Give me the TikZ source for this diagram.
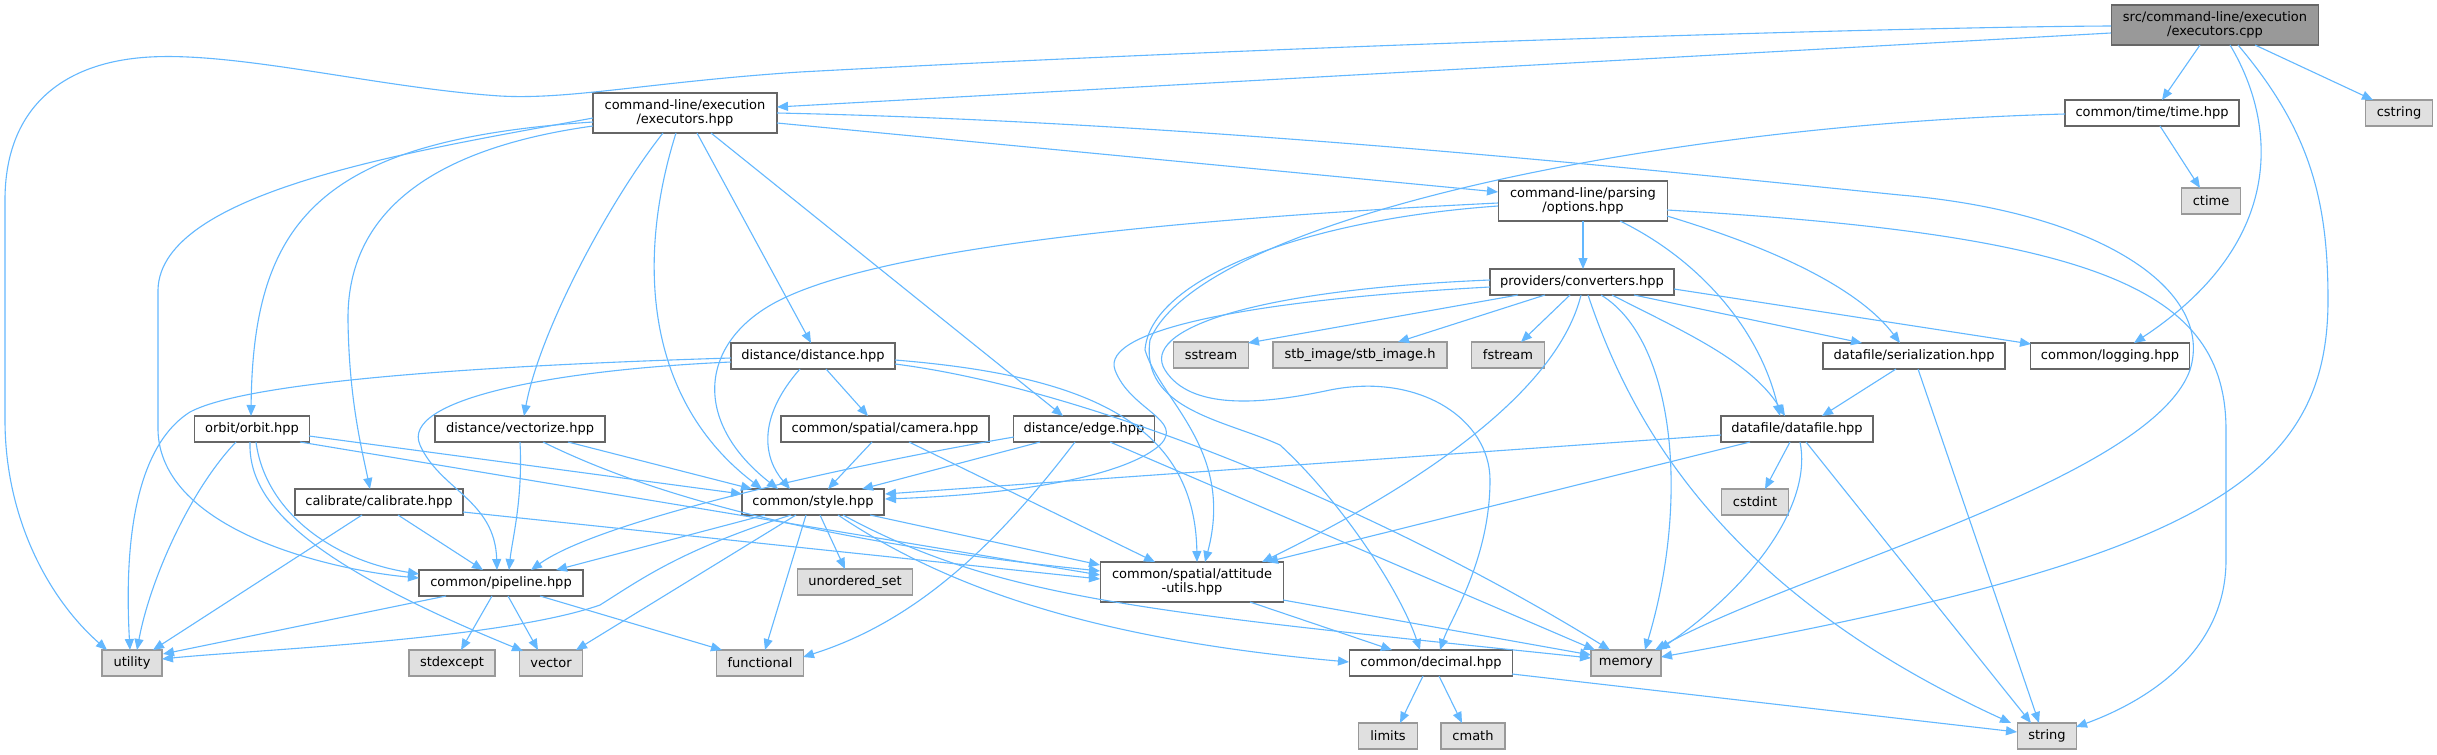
\documentclass[tikz,border=0pt]{standalone}
\usepackage{fontspec}
\setmainfont{DejaVu Sans}
\usetikzlibrary{arrows.meta,calc}
\definecolor{edgec}{HTML}{63B8FF}
\definecolor{bord}{HTML}{666666}
\definecolor{extfill}{HTML}{E0E0E0}
\definecolor{extbord}{HTML}{999999}
\definecolor{rootfill}{HTML}{999999}
\begin{document}
\begin{tikzpicture}[x=1pt,y=-1pt,
  base/.style={rectangle, inner sep=0pt, font=\fontsize{13}{14.5}\selectfont, align=center, line width=1.5pt, minimum height=26pt},
  hdr/.style={base, draw=bord, fill=white},
  ext/.style={base, draw=extbord, fill=extfill},
  root/.style={base, draw=bord, fill=rootfill},
  e/.style={draw=edgec, line width=1.1pt, -{Triangle[length=11pt,width=9pt]}},
]
\useasboundingbox[fill=white] (0,0) rectangle (2437,755);
% nodes
\node[root, minimum width=207pt, minimum height=40pt] (src) at (2215,25) {src/command-line/execution\\/executors.cpp};
\node[hdr, minimum width=184pt, minimum height=40pt] (cle) at (685,113) {command-line/execution\\/executors.hpp};
\node[hdr, minimum width=174pt] (time) at (2152,113) {common/time/time.hpp};
\node[ext, minimum width=67pt] (cstring) at (2399,113) {cstring};
\node[ext, minimum width=59pt] (ctime) at (2211,201) {ctime};
\node[hdr, minimum width=169pt, minimum height=40pt] (options) at (1583,201) {command-line/parsing\\/options.hpp};
\node[hdr, minimum width=184pt] (conv) at (1582,282) {providers/converters.hpp};
\node[ext, minimum width=75pt] (sstream) at (1211,355) {sstream};
\node[ext, minimum width=174pt] (stb) at (1360,355) {stb\_image/stb\_image.h};
\node[ext, minimum width=73pt] (fstream) at (1508,355) {fstream};
\node[hdr, minimum width=182pt] (serial) at (1914,356) {datafile/serialization.hpp};
\node[hdr, minimum width=159pt] (logging) at (2110,356) {common/logging.hpp};
\node[hdr, minimum width=164pt] (dist) at (813,356) {distance/distance.hpp};
\node[hdr, minimum width=152pt] (datafile) at (1797,429) {datafile/datafile.hpp};
\node[hdr, minimum width=115pt] (orbit) at (252,429) {orbit/orbit.hpp};
\node[hdr, minimum width=170pt] (vect) at (520,429) {distance/vectorize.hpp};
\node[hdr, minimum width=208pt] (camera) at (885,429) {common/spatial/camera.hpp};
\node[hdr, minimum width=141pt] (dedge) at (1084,429) {distance/edge.hpp};
\node[ext, minimum width=67pt] (cstdint) at (1755,502) {cstdint};
\node[hdr, minimum width=168pt] (calib) at (379,502) {calibrate/calibrate.hpp};
\node[hdr, minimum width=142pt] (style) at (813,502) {common/style.hpp};
\node[hdr, minimum width=164pt] (pipe) at (501,583) {common/pipeline.hpp};
\node[ext, minimum width=115pt] (unord) at (855,582) {unordered\_set};
\node[hdr, minimum width=183pt, minimum height=40pt] (att) at (1192,582) {common/spatial/attitude\\-utils.hpp};
\node[ext, minimum width=60pt] (utility) at (132,663) {utility};
\node[ext, minimum width=86pt] (stdexc) at (452,663) {stdexcept};
\node[ext, minimum width=63pt] (vector) at (551,663) {vector};
\node[ext, minimum width=87pt] (func) at (760,663) {functional};
\node[hdr, minimum width=163pt] (decimal) at (1431,663) {common/decimal.hpp};
\node[ext, minimum width=70pt] (memory) at (1626,663) {memory};
\node[ext, minimum width=59pt] (limits) at (1388,736) {limits};
\node[ext, minimum width=64pt] (cmath) at (1473,736) {cmath};
\node[ext, minimum width=59pt] (string) at (2047,736) {string};
% edges from src
\draw[e] ($(src)+(-104,8)$) -- ($(cle)+(92,-6)$);
\draw[e] ($(src)+(-104,1)$) .. controls (1900,27) and (1300,45) .. (800,72) .. controls (650,82) and (570,100) .. (500,96) .. controls (380,88) and (240,52) .. (150,57) .. controls (60,62) and (5,110) .. (5,200) -- (5,420) .. controls (5,520) and (50,600) .. ($(utility)+(-25,-13)$);
\draw[e] ($(src)+(-15,20)$) -- ($(time)+(10,-13)$);
\draw[e] ($(src)+(40,20)$) -- ($(cstring)+(-26,-13)$);
\draw[e] ($(src)+(15,20)$) .. controls (2275,120) and (2290,240) .. ($(logging)+(24,-13)$);
\draw[e] ($(src)+(23,20)$) .. controls (2310,130) and (2328,200) .. (2328,300) .. controls (2328,480) and (2200,560) .. ($(memory)+(35,-6)$);
% edges from cle
\draw[e] ($(cle)+(92,0)$) .. controls (1200,122) and (1650,170) .. (1900,195) .. controls (2100,212) and (2215,290) .. (2190,370) .. controls (2150,480) and (1800,570) .. ($(memory)+(29,-13)$);
\draw[e] ($(cle)+(92,10)$) -- ($(options)+(-85,-9)$);
\draw[e] ($(cle)+(-92,5)$) .. controls (420,150) and (160,190) .. (158,290) -- (158,430) .. controls (160,530) and (330,570) .. ($(pipe)+(-82,-5)$);
\draw[e] ($(cle)+(-92,9)$) .. controls (320,140) and (253,220) .. ($(orbit)+(-1,-13)$);
\draw[e] ($(cle)+(-92,13)$) .. controls (420,150) and (347,220) .. (348,320) .. controls (349,400) and (362,450) .. ($(calib)+(-9,-13)$);
\draw[e] ($(cle)+(-22,20)$) .. controls (610,200) and (540,330) .. ($(vect)+(4,-13)$);
\draw[e] ($(cle)+(-9,20)$) .. controls (636,260) and (645,400) .. ($(style)+(-51,-13)$);
\draw[e] ($(cle)+(12,20)$) -- ($(dist)+(-2,-13)$);
\draw[e] ($(cle)+(26,20)$) -- ($(dedge)+(-21,-13)$);
% time
\draw[e] ($(time)+(8,13)$) -- ($(ctime)+(-11,-13)$);
\draw[e] ($(time)+(-87,1)$) .. controls (1650,125) and (1200,220) .. (1150,340) .. controls (1140,410) and (1225,420) .. (1280,445) .. controls (1340,500) and (1400,590) .. ($(decimal)+(-11,-13)$);
% options
\draw[e] ($(options)+(0,20)$) -- ($(conv)+(1,-13)$);
\draw[e] ($(options)+(-85,2)$) .. controls (1150,220) and (880,250) .. (780,300) .. controls (700,340) and (690,420) .. ($(style)+(-35,-13)$);
\draw[e] ($(options)+(-85,5)$) .. controls (1300,220) and (1150,280) .. (1145,350) .. controls (1160,400) and (1235,450) .. ($(att)+(13,-20)$);
\draw[e] ($(options)+(37,20)$) .. controls (1700,260) and (1760,330) .. ($(datafile)+(-17,-13)$);
\draw[e] ($(options)+(84,15)$) .. controls (1780,250) and (1860,290) .. ($(serial)+(-14,-13)$);
\draw[e] ($(options)+(84,9)$) .. controls (2100,235) and (2226,290) .. (2226,430) -- (2226,560) .. controls (2226,650) and (2150,700) .. ($(string)+(29,-9)$);
% converters
\draw[e] ($(conv)+(-64,13)$) -- ($(sstream)+(37,-12)$);
\draw[e] ($(conv)+(-37,13)$) -- ($(stb)+(38,-13)$);
\draw[e] ($(conv)+(-12,13)$) -- ($(fstream)+(13,-13)$);
\draw[e] ($(conv)+(-1,13)$) .. controls (1560,380) and (1450,470) .. ($(att)+(70,-20)$);
\draw[e] ($(conv)+(6,13)$) .. controls (1630,420) and (1720,590) .. ($(string)+(-36,-13)$);
\draw[e] ($(conv)+(19,13)$) .. controls (1675,340) and (1690,500) .. ($(memory)+(19,-13)$);
\draw[e] ($(conv)+(52,13)$) -- ($(serial)+(-52,-13)$);
\draw[e] ($(conv)+(92,7)$) -- ($(logging)+(-79,-12)$);
\draw[e] ($(conv)+(30,13)$) .. controls (1680,330) and (1750,360) .. ($(datafile)+(-12,-13)$);
\draw[e] ($(conv)+(-92,-2)$) .. controls (1250,290) and (1140,330) .. (1165,370) .. controls (1190,410) and (1260,405) .. (1330,390) .. controls (1420,372) and (1490,420) .. (1490,480) .. controls (1490,560) and (1450,620) .. ($(decimal)+(9,-13)$);
\draw[e] ($(conv)+(-92,5)$) .. controls (1250,300) and (1100,330) .. (1115,370) .. controls (1130,410) and (1185,420) .. (1160,445) .. controls (1120,480) and (1000,495) .. ($(style)+(72,-3)$);
% datafile
\draw[e] ($(datafile)+(-76,6)$) -- ($(style)+(72,-8)$);
\draw[e] ($(datafile)+(-47,13)$) -- ($(att)+(75,-20)$);
\draw[e] ($(datafile)+(-7,13)$) -- ($(cstdint)+(10,-13)$);
\draw[e] ($(datafile)+(3,13)$) .. controls (1812,500) and (1760,580) .. ($(memory)+(33,-13)$);
\draw[e] ($(datafile)+(9,13)$) -- ($(string)+(-16,-13)$);
% serialization
\draw[e] ($(serial)+(-18,13)$) -- ($(datafile)+(25,-13)$);
\draw[e] ($(serial)+(4,13)$) -- ($(string)+(-8,-13)$);
% distance
\draw[e] ($(dist)+(-82,2)$) .. controls (500,365) and (250,380) .. (190,412) .. controls (130,450) and (125,560) .. ($(utility)+(-2,-13)$);
\draw[e] ($(dist)+(-82,6)$) .. controls (550,370) and (400,400) .. (420,445) .. controls (440,490) and (495,500) .. ($(pipe)+(-4,-13)$);
\draw[e] ($(dist)+(-13,13)$) .. controls (755,420) and (765,460) .. ($(style)+(-23,-13)$);
\draw[e] ($(dist)+(13,13)$) -- ($(camera)+(-17,-13)$);
\draw[e] ($(dist)+(82,4)$) .. controls (1080,375) and (1195,420) .. ($(att)+(5,-20)$);
\draw[e] ($(dist)+(82,8)$) .. controls (1100,390) and (1400,520) .. ($(memory)+(-16,-13)$);
% orbit
\draw[e] ($(orbit)+(-16,13)$) .. controls (190,490) and (150,580) .. ($(utility)+(5,-13)$);
\draw[e] ($(orbit)+(-2,13)$) .. controls (248,500) and (300,560) .. ($(vector)+(-28,-12)$);
\draw[e] ($(orbit)+(4,13)$) .. controls (265,510) and (330,560) .. ($(pipe)+(-82,-9)$);
\draw[e] ($(orbit)+(57,7)$) -- ($(style)+(-71,-8)$);
\draw[e] ($(orbit)+(48,13)$) -- ($(att)+(-92,-7)$);
% vectorize
\draw[e] ($(vect)+(0,13)$) .. controls (523,500) and (512,540) .. ($(pipe)+(8,-13)$);
\draw[e] ($(vect)+(48,13)$) -- ($(style)+(-61,-13)$);
\draw[e] ($(vect)+(23,13)$) .. controls (640,490) and (800,540) .. ($(att)+(-92,-11)$);
% calibrate
\draw[e] ($(calib)+(-17,13)$) -- ($(utility)+(21,-13)$);
\draw[e] ($(calib)+(19,13)$) -- ($(pipe)+(-18,-13)$);
\draw[e] ($(calib)+(84,10)$) -- ($(att)+(-92,-3)$);
% camera
\draw[e] ($(camera)+(-13,13)$) -- ($(style)+(15,-13)$);
\draw[e] ($(camera)+(24,13)$) -- ($(att)+(-37,-20)$);
% edge
\draw[e] ($(dedge)+(-44,13)$) -- ($(style)+(49,-13)$);
\draw[e] ($(dedge)+(-70,8)$) .. controls (850,465) and (600,520) .. ($(pipe)+(30,-13)$);
\draw[e] ($(dedge)+(-9,13)$) .. controls (1000,540) and (920,620) .. ($(func)+(43,-6)$);
\draw[e] ($(dedge)+(26,13)$) -- ($(memory)+(-31,-13)$);
% style
\draw[e] ($(style)+(-48,13)$) -- ($(pipe)+(55,-13)$);
\draw[e] ($(style)+(-22,13)$) .. controls (680,550) and (640,580) .. (600,605) .. controls (500,640) and (250,650) .. ($(utility)+(30,-4)$);
\draw[e] ($(style)+(-17,13)$) -- ($(vector)+(25,-13)$);
\draw[e] ($(style)+(-7,13)$) -- ($(func)+(5,-13)$);
\draw[e] ($(style)+(7,13)$) -- ($(unord)+(-10,-13)$);
\draw[e] ($(style)+(57,13)$) -- ($(att)+(-92,-17)$);
\draw[e] ($(style)+(25,13)$) .. controls (950,590) and (1100,640) .. ($(decimal)+(-82,-1)$);
\draw[e] ($(style)+(30,13)$) .. controls (1000,600) and (1150,612) .. ($(memory)+(-35,-5)$);
% pipeline
\draw[e] ($(pipe)+(-55,13)$) -- ($(utility)+(31,-9)$);
\draw[e] ($(pipe)+(-9,13)$) -- ($(stdexc)+(9,-13)$);
\draw[e] ($(pipe)+(7,13)$) -- ($(vector)+(-13,-13)$);
\draw[e] ($(pipe)+(39,13)$) -- ($(func)+(-38,-13)$);
% attitude
\draw[e] ($(att)+(58,20)$) -- ($(decimal)+(-39,-13)$);
\draw[e] ($(att)+(91,18)$) -- ($(memory)+(-35,-8)$);
% decimal
\draw[e] ($(decimal)+(-8,13)$) -- ($(limits)+(12,-13)$);
\draw[e] ($(decimal)+(8,13)$) -- ($(cmath)+(-11,-13)$);
\draw[e] ($(decimal)+(81,11)$) -- ($(string)+(-30,-4)$);
\end{tikzpicture}
\end{document}
